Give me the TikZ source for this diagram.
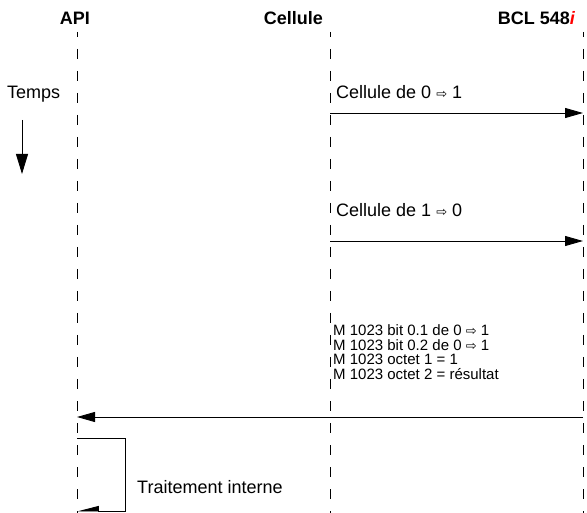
\documentclass[tikz,border=0pt]{standalone}
\usepackage{fontspec}
\setmainfont{Liberation Sans}
\newfontfamily\arrowfont{DejaVu Sans}
\usetikzlibrary{arrows.meta}
\newcommand{\thento}{{\arrowfont\fontsize{13}{13}\selectfont ⇨}}

\begin{document}
\begin{tikzpicture}[x=1pt,y=-1pt,
  head/.style={font=\fontsize{18}{18}\selectfont\bfseries, inner sep=0pt},
  lbl/.style={font=\fontsize{18}{18}\selectfont, anchor=base west, inner sep=0pt},
  small/.style={font=\fontsize{15}{15}\selectfont, anchor=base west, inner sep=0pt},
  life/.style={dash pattern=on 10pt off 12pt, dash phase=5pt, line width=0.8pt},
  msg/.style={line width=0.9pt, -{Triangle[length=18pt,width=10pt]}}]
\useasboundingbox (0,0) rectangle (587,513);
% headers
\node [head, anchor=base] (api) at (75,25) {API};
\node [head, anchor=base east] (cel) at (323,25) {Cellule};
\node [head, anchor=base east] (bcl) at (575,25) {BCL 548\textcolor{red}{\itshape i}};
% lifelines
\coordinate (apit) at (77,32);
\coordinate (apib) at (77,513);
\coordinate (celt) at (330,32);
\coordinate (celb) at (330,513);
\coordinate (bclt) at (583,32);
\coordinate (bclb) at (583,513);
\draw [life] (apit) -- (apib);
\draw [life] (celt) -- (celb);
\draw [life] (bclt) -- (bclb);
% time
\node [lbl] (temps) at (7,99) {Temps};
\coordinate (tt) at (22,120);
\coordinate (tb) at (22,174);
\draw [line width=0.9pt, -{Triangle[length=20pt,width=12pt]}] (tt) -- (tb);
% cellule 0 -> 1
\coordinate (c1) at (330,113);
\coordinate (b1) at (583,113);
\draw [msg] (c1) -- (b1);
\node [lbl] (m1) at (336,99) {Cellule de 0 \thento{} 1};
% cellule 1 -> 0
\coordinate (c2) at (330,241);
\coordinate (b2) at (583,241);
\draw [msg] (c2) -- (b2);
\node [lbl] (m2) at (336,217) {Cellule de 1 \thento{} 0};
% answer
\node [small] (r1) at (333,336) {M 1023 bit 0.1 de 0 \thento{} 1};
\node [small] (r2) at (333,351) {M 1023 bit 0.2 de 0 \thento{} 1};
\node [small] (r3) at (333,365) {M 1023 octet 1 = 1};
\node [small] (r4) at (333,380) {M 1023 octet 2 = résultat};
\coordinate (b3) at (583,417);
\coordinate (a3) at (77,417);
\draw [msg] (b3) -- (a3);
% internal loop
\coordinate (l1) at (77,438);
\coordinate (l2) at (125,438);
\coordinate (l3) at (125,511);
\coordinate (l4) at (77,511);
\draw [line width=0.9pt, -{Triangle[right,length=20pt,width=10pt]}] (l1) -- (l2) -- (l3) -- (l4);
\node [lbl] (ti) at (137,493) {Traitement interne};
\end{tikzpicture}
\end{document}
